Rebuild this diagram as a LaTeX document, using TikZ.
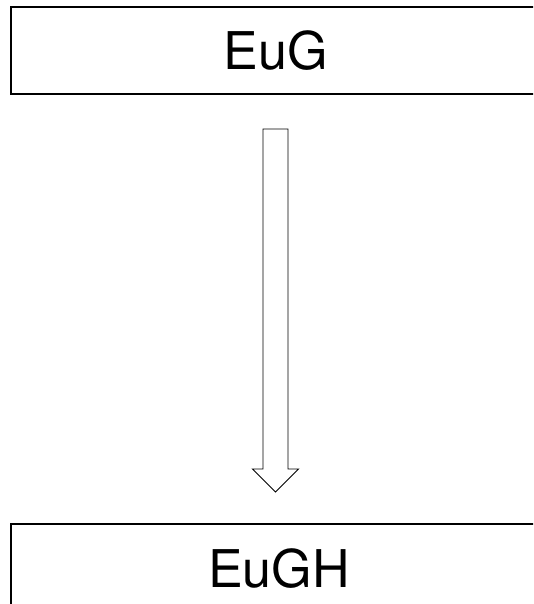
\documentclass[tikz,border=0pt]{standalone}
\usepackage{fontspec}
\setmainfont{TeX Gyre Heros}
\usetikzlibrary{calc}

\begin{document}
\begin{tikzpicture}[x=1pt, y=1pt]
		\tikzset{stage/.style={shape = rectangle, draw, line width = 1.3pt, inner sep = 0pt,
				font = \fontsize{52}{60}\selectfont}}
		\tikzset{hollow/.style={draw, line width = 0.9pt, line join = miter}}
		\clip (0, 0) rectangle (533, 604);
		\useasboundingbox (0, 0) rectangle (533, 604);
		%stages
		\node[stage, minimum width = 530pt, minimum height = 87pt] (eug) at (276, 553.5) {EuG};
		\node[stage, minimum width = 536pt, minimum height = 90pt] (eugh) at (279, 35) {EuGH};
		%arrow
		\coordinate (tail) at (275.5, 475);
		\coordinate (tip) at (275.5, 112);
		\draw[hollow] ($(tail)+(-12.5, 0)$) -- ($(tip)+(-12.5, 23)$) -- ($(tip)+(-23, 23)$)
			-- (tip) -- ($(tip)+(23, 23)$) -- ($(tip)+(12.5, 23)$) -- ($(tail)+(12.5, 0)$) -- cycle;
		\end{tikzpicture}
\end{document}
